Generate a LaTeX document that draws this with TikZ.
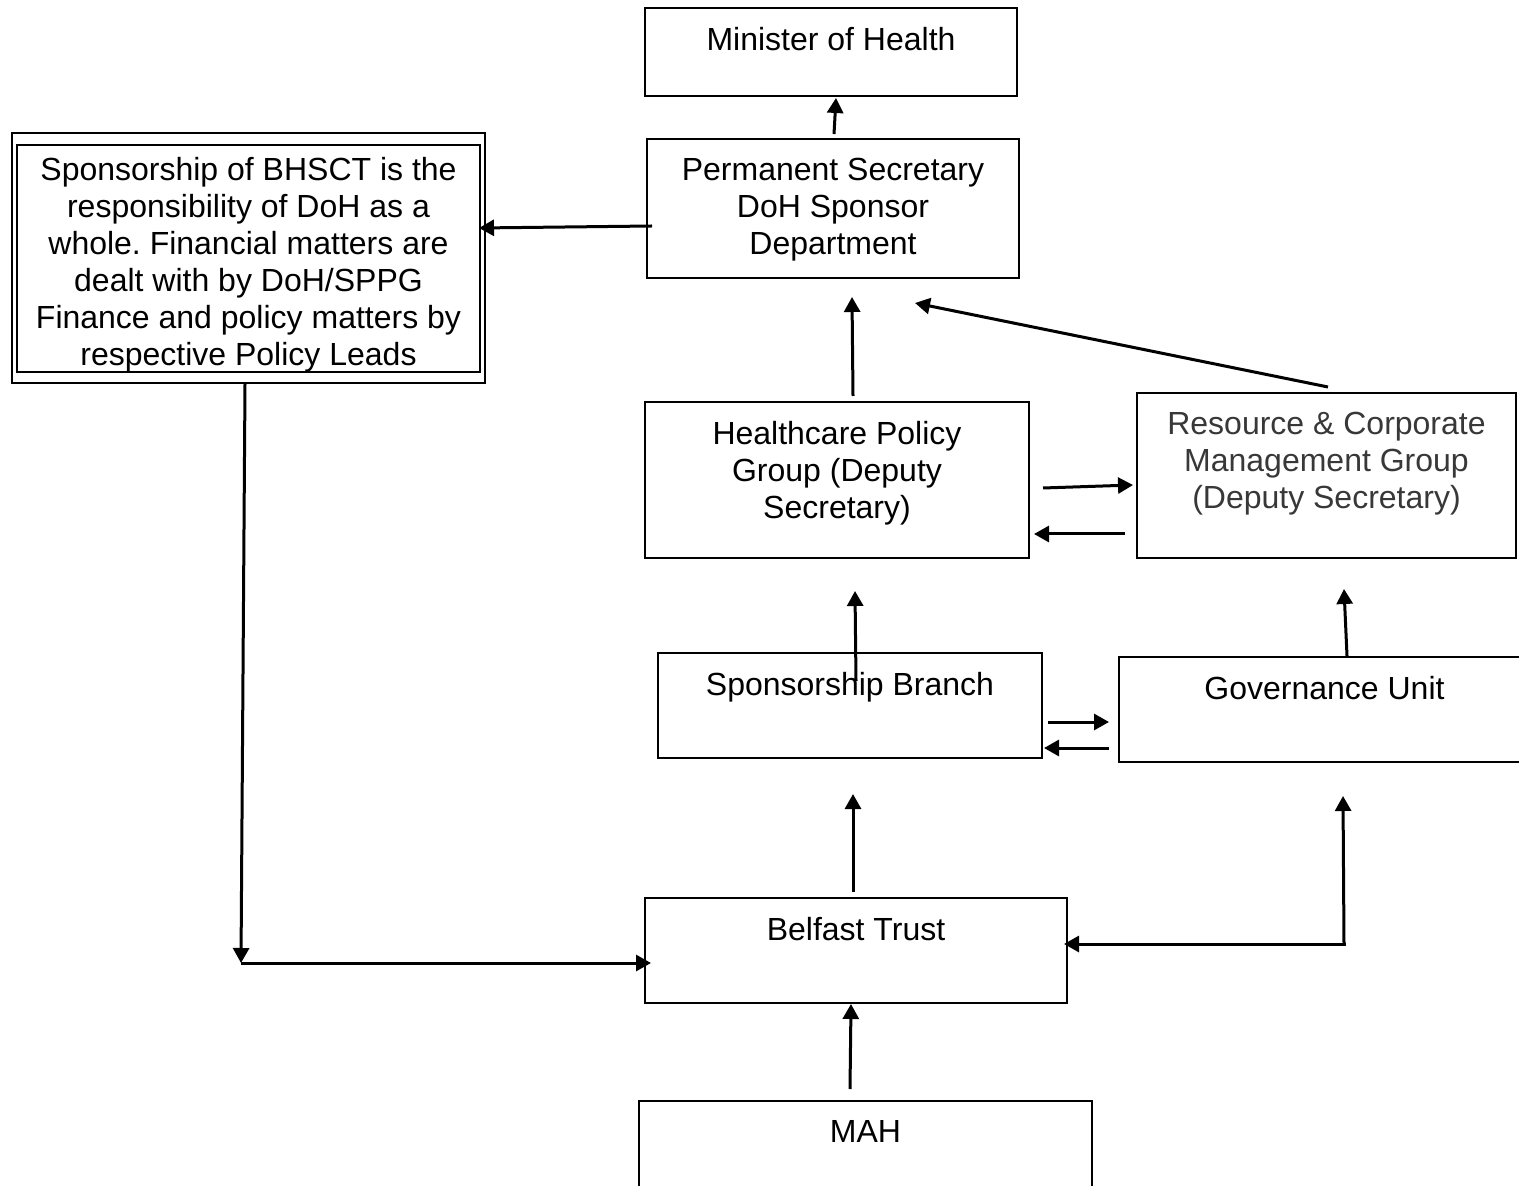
\documentclass[tikz,border=0pt]{standalone}
\usepackage{fontspec}
\setmainfont{Liberation Sans}
\usepackage{tikz}
\usetikzlibrary{positioning,arrows.meta,calc}
\usepackage{xcolor}
\frenchspacing

\tikzset{
  unit/.style={draw,line width=1pt,inner sep=0pt},
  lbl/.style={anchor=north,yshift=-9.8pt,inner sep=0pt,align=center,font=\fontsize{16}{18.5}\selectfont},
  flow/.style={-{Triangle[length=7.5pt,width=8pt]},line width=1.5pt}
}

\begin{document}
\begin{tikzpicture}[x=0.5pt,y=-0.5pt]
\useasboundingbox (0,0) rectangle (1519,1186);
\node[unit,minimum width=186pt,minimum height=44pt,label={[lbl]north:Minister of Health}] (minister) at (831,52) {};
\node[unit,minimum width=186pt,minimum height=69.5pt,label={[lbl]north:{Permanent Secretary\\DoH Sponsor\\Department}}] (perm) at (833,208.5) {};
\node[unit,minimum width=236.5pt,minimum height=125pt] (sponsor) at (248.5,258) {};
\node[unit,minimum width=231.5pt,minimum height=113.5pt,label={[lbl,yshift=3.5pt]north:{Sponsorship of BHSCT is the\\responsibility of DoH as a\\whole. Financial matters are\\dealt with by DoH/SPPG\\Finance and policy matters by\\respective Policy Leads}}] (sponsor-in) at (248.5,258.5) {};
\node[unit,minimum width=192pt,minimum height=78pt,label={[lbl]north:{Healthcare Policy\\Group (Deputy\\Secretary)}}] (health) at (837,480) {};
\node[unit,minimum width=189.5pt,minimum height=82.5pt,label={[lbl,text=black!78]north:{Resource \& Corporate\\Management Group\\(Deputy Secretary)}}] (resource) at (1326.5,475.5) {};
\node[unit,minimum width=192pt,minimum height=52.5pt,label={[lbl]north:Sponsorship Branch}] (branch) at (850,705.5) {};
\node[unit,minimum width=205.5pt,minimum height=52.5pt,label={[lbl]north:Governance Unit}] (gov) at (1324.5,709.5) {};
\node[unit,minimum width=211pt,minimum height=52.5pt,label={[lbl]north:Belfast Trust}] (trust) at (856,950.5) {};
\node[unit,minimum width=226.5pt,minimum height=49pt,label={[lbl]north:MAH}] (mah) at (865.5,1150) {};
\coordinate (split) at (1344,945);
\coordinate (corner) at (241,963);

% upward reporting lines
\draw[flow] ([shift={(1,-4)}]perm.north) -- ([shift={(5,1)}]minister.south);
\draw[flow] ([shift={(6,17.5)}]perm.west) -- ([shift={(-7,-30)}]sponsor.east);
\draw[flow] ([shift={(16,-5)}]health.north) -- ([shift={(19,18)}]perm.south);
\draw[flow] ([shift={(1.5,-5)}]resource.north) -- ([shift={(82,24)}]perm.south);
\draw[flow] ([shift={(13,8)}]health.east) -- ([shift={(-3,9.5)}]resource.west);
\draw[flow] ([shift={(-11,58.5)}]resource.west) -- ([shift={(4,54)}]health.east);
\draw[flow] ([shift={(6,29)}]branch.north) -- ([shift={(18,32)}]health.south);
\draw[flow] ([shift={(22.5,0)}]gov.north) -- ([shift={(17.5,30)}]resource.south);
\draw[flow] ([shift={(5,16.5)}]branch.east) -- ([shift={(-9,12.5)}]gov.west);
\draw[flow] ([shift={(-9,38.5)}]gov.west) -- ([shift={(1,42.5)}]branch.east);
\draw[flow] ([shift={(-3,-5)}]trust.north) -- ([shift={(3,35)}]branch.south);
\draw[flow] (split) -- ([shift={(18.5,33)}]gov.south);
\draw[flow] ([shift={(2,-1)}]split) -- ([shift={(-4,-6.5)}]trust.east);
% sponsorship link to the trust
\draw[flow] ([shift={(-3.5,0)}]sponsor.south) -- (corner);
\draw[flow] (corner) -- ([shift={(7,12.5)}]trust.west);
\draw[flow] ([shift={(-15.5,-11)}]mah.north) -- ([shift={(-5,0)}]trust.south);
\end{tikzpicture}
\end{document}
